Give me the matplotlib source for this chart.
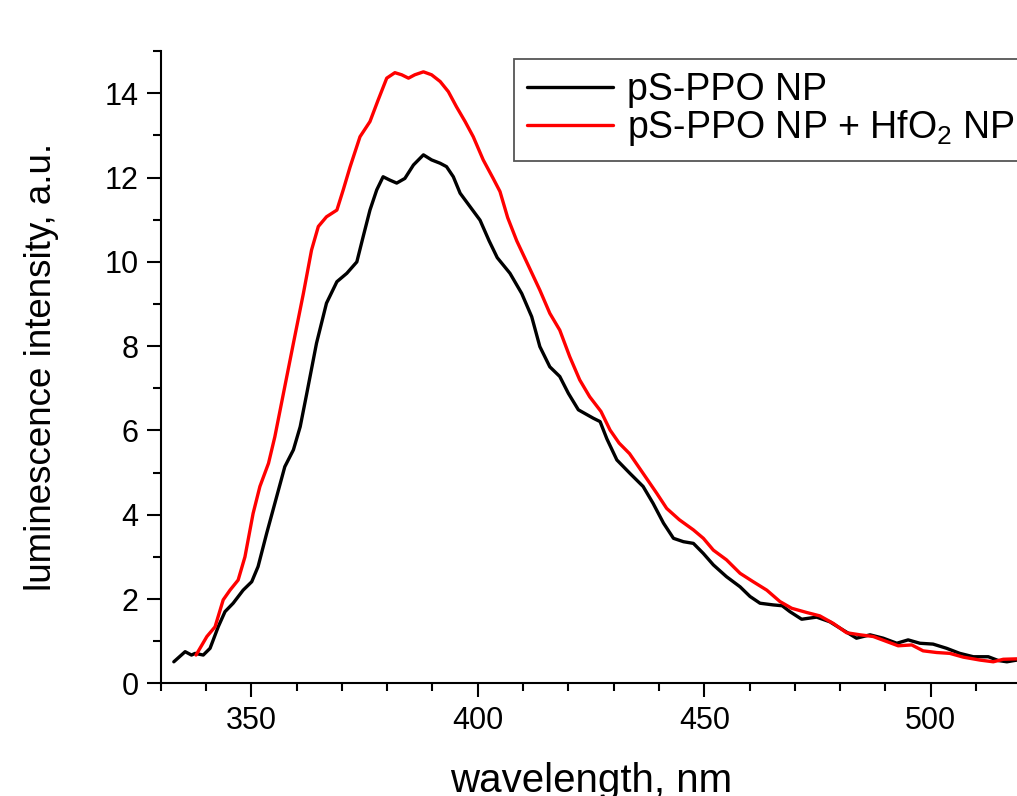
import matplotlib
matplotlib.use("Agg")
import matplotlib.pyplot as plt
from matplotlib.ticker import MultipleLocator

plt.rcParams["font.family"] = ["Liberation Sans", "DejaVu Sans"]
plt.rcParams["mathtext.default"] = "regular"

# luminescence spectra
wl_np = [332.9, 335.4, 336.8, 337.6, 339.4, 340.9, 342.7, 344.2, 346.0, 348.2,
         350.1, 351.5, 353.4, 355.2, 357.4, 359.3, 360.8, 362.2, 364.4, 366.6,
         368.9, 371.1, 373.3, 374.7, 376.2, 377.7, 379.1, 380.6, 382.1, 383.9,
         385.8, 388.0, 389.8, 391.7, 393.1, 394.6, 396.1, 398.3, 400.5, 402.5,
         404.3, 407.1, 409.7, 411.9, 413.7, 415.9, 418.1, 420.0, 422.2, 425.5,
         427.0, 428.5, 430.7, 433.6, 436.5, 438.7, 441.0, 443.2, 445.4, 447.6,
         449.8, 452.0, 454.9, 457.9, 460.1, 462.3, 465.2, 467.2, 468.9, 471.5,
         474.8, 477.7, 480.7, 483.6, 486.6, 489.5, 492.5, 495.0, 497.6, 500.5,
         503.5, 506.4, 509.4, 512.7, 514.9, 516.8, 519.0]
int_np = [0.51, 0.75, 0.67, 0.71, 0.67, 0.83, 1.34, 1.70, 1.90, 2.21,
          2.41, 2.77, 3.56, 4.27, 5.14, 5.54, 6.09, 6.85, 8.07, 9.02,
          9.53, 9.73, 10.0, 10.6, 11.23, 11.71, 12.02, 11.94, 11.87, 11.98,
          12.30, 12.54, 12.42, 12.34, 12.26, 12.02, 11.63, 11.31, 10.99, 10.5,
          10.1, 9.73, 9.25, 8.70, 7.99, 7.51, 7.28, 6.88, 6.49, 6.29,
          6.21, 5.8, 5.30, 4.98, 4.67, 4.27, 3.80, 3.44, 3.36, 3.32,
          3.08, 2.81, 2.53, 2.29, 2.06, 1.90, 1.86, 1.84, 1.70, 1.52,
          1.57, 1.46, 1.26, 1.07, 1.15, 1.07, 0.95, 1.03, 0.95, 0.93,
          0.83, 0.71, 0.63, 0.63, 0.54, 0.51, 0.55]

wl_hf = [337.8, 340.2, 342.0, 343.8, 345.3, 347.1, 348.6, 350.4, 351.9, 353.8,
         355.2, 357.1, 359.3, 361.5, 363.3, 364.8, 366.6, 368.9, 370.3, 371.8,
         374.0, 376.2, 378.0, 379.9, 381.7, 383.2, 384.7, 386.1, 388.0, 389.8,
         391.7, 393.5, 395.3, 397.2, 399.0, 401.2, 403.4, 404.9, 406.6, 408.6,
         411.0, 413.7, 415.9, 418.1, 420.3, 422.5, 424.7, 427.2, 429.2, 431.2,
         433.5, 436.5, 439.5, 441.7, 444.5, 447.6, 449.8, 452.0, 454.9, 457.9,
         460.8, 463.8, 466.7, 469.3, 472.6, 475.5, 478.5, 481.4, 484.4, 487.3,
         490.3, 492.8, 495.8, 498.3, 501.3, 504.2, 507.2, 510.9, 513.8, 516.0,
         519.0]
int_hf = [0.67, 1.11, 1.34, 1.98, 2.21, 2.45, 3.0, 4.03, 4.67, 5.22,
          5.85, 6.88, 8.07, 9.25, 10.28, 10.84, 11.07, 11.23, 11.71, 12.25,
          12.97, 13.33, 13.84, 14.36, 14.49, 14.44, 14.36, 14.44, 14.51, 14.44,
          14.28, 14.04, 13.68, 13.33, 12.97, 12.42, 11.98, 11.67, 11.05, 10.5,
          9.95, 9.33, 8.78, 8.38, 7.75, 7.20, 6.80, 6.45, 6.01, 5.70,
          5.45, 4.98, 4.51, 4.15, 3.88, 3.64, 3.44, 3.16, 2.93, 2.61,
          2.41, 2.21, 1.94, 1.78, 1.68, 1.60, 1.42, 1.20, 1.15, 1.11,
          0.99, 0.89, 0.91, 0.77, 0.73, 0.71, 0.62, 0.55, 0.51, 0.57,
          0.58]

labels = ["pS-PPO NP", "pS-PPO NP + HfO$_2$ NP"]
colors = ["#000000", "#ff0000"]

fig = plt.figure(figsize=(10.17, 7.96), dpi=100)
# axes run past the right edge, the original picture is cropped there
ax = fig.add_axes([0.158, 0.1416, 0.8463, 0.7941])

ax.plot(wl_np, int_np, color=colors[0], lw=2.4, solid_joinstyle="round",
        solid_capstyle="round", label=labels[0])
ax.plot(wl_hf, int_hf, color=colors[1], lw=2.4, solid_joinstyle="round",
        solid_capstyle="round", label=labels[1])

ax.set_xlim(330, 520)
ax.set_ylim(0, 15)
ax.xaxis.set_major_locator(MultipleLocator(50))
ax.xaxis.set_minor_locator(MultipleLocator(10))
ax.yaxis.set_major_locator(MultipleLocator(2))
ax.yaxis.set_minor_locator(MultipleLocator(1))

for s in ("top", "right"):
    ax.spines[s].set_visible(False)
for s in ("left", "bottom"):
    ax.spines[s].set_linewidth(1.5)

ax.tick_params(which="major", direction="out", length=10, width=1.5,
               labelsize=22, pad=6)
ax.tick_params(which="minor", direction="out", length=6, width=1.5)

# the reference crops the x label at the bottom edge, kept the same here
ax.set_xlabel("wavelength, nm", fontsize=29, labelpad=19)
ax.set_ylabel("luminescence intensity, a.u.", fontsize=26.5, labelpad=33)

leg = ax.legend(loc="upper left", bbox_to_anchor=(514 / 1017, 1 - 59 / 796),
                bbox_transform=fig.transFigure, fontsize=27, frameon=True,
                fancybox=False, framealpha=1, edgecolor="#555555",
                handlelength=2.3, handletextpad=0.36, borderpad=0.35,
                labelspacing=0.0, borderaxespad=0)
leg.get_frame().set_linewidth(1.3)

fig.savefig("out.png", dpi=100)
